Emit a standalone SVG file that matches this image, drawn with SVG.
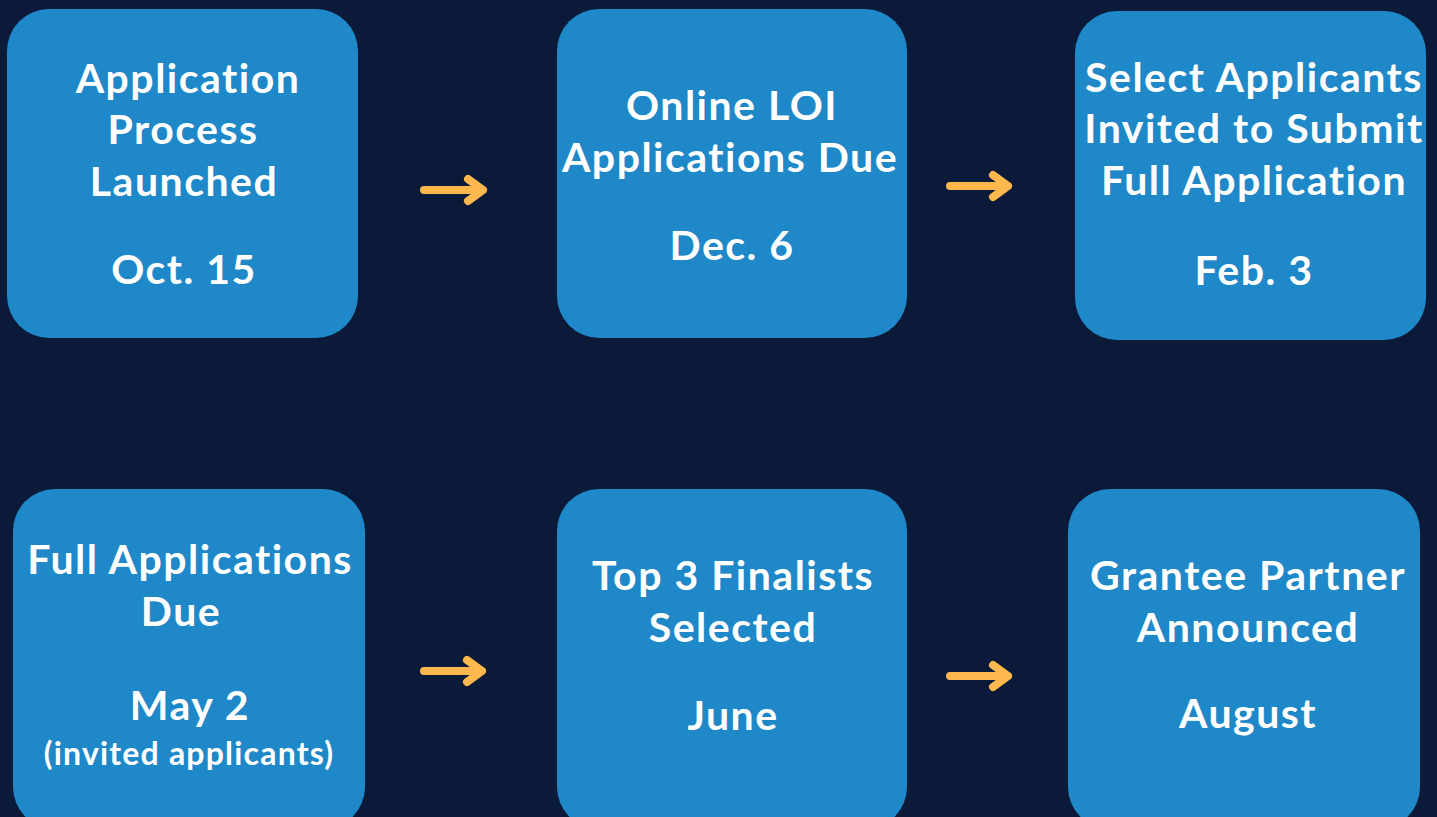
<svg xmlns="http://www.w3.org/2000/svg" width="1437" height="817" viewBox="0 0 1437 817">
<defs>
<style>
.box{fill:#1e88c8}
.t{fill:#ffffff;font-family:Lato,"Open Sans",sans-serif;font-weight:700;font-size:41px;letter-spacing:1.5px;font-variant-ligatures:none;text-anchor:middle}
.s{font-size:32px;letter-spacing:1.2px}
.arr{fill:none;stroke:#ffb84e;stroke-width:8;stroke-linecap:round;stroke-linejoin:round}
</style>
</defs>
<rect width="1437" height="817" fill="#0b1a38"/>
<g id="n1"><rect class="box" x="7" y="9" width="351" height="329" rx="42"/>
<text class="t" x="188" y="93">Application</text><text class="t" x="183" y="144">Process</text><text class="t" x="184" y="196">Launched</text><text class="t" x="184" y="284">Oct. 15</text></g>
<g id="n2"><rect class="box" x="557" y="9" width="350" height="329" rx="42"/>
<text class="t" x="732" y="120">Online LOI</text><text class="t" x="730" y="172">Applications Due</text><text class="t" x="732" y="260">Dec. 6</text></g>
<g id="n3"><rect class="box" x="1075" y="11" width="351" height="329" rx="42"/>
<text class="t" x="1254" y="92">Select Applicants</text><text class="t" x="1254" y="143">Invited to Submit</text><text class="t" x="1254" y="195">Full Application</text><text class="t" x="1254" y="285">Feb. 3</text></g>
<g id="n4"><rect class="box" x="13" y="489" width="352" height="340" rx="42"/>
<text class="t" x="190" y="574">Full Applications</text><text class="t" x="181" y="626">Due</text><text class="t" x="190" y="720">May 2</text><text class="t s" x="189" y="765">(invited applicants)</text></g>
<g id="n5"><rect class="box" x="557" y="489" width="350" height="340" rx="42"/>
<text class="t" x="733" y="590">Top 3 Finalists</text><text class="t" x="733" y="642">Selected</text><text class="t" x="733" y="730">June</text></g>
<g id="n6"><rect class="box" x="1068" y="489" width="352" height="340" rx="42"/>
<text class="t" x="1248" y="590">Grantee Partner</text><text class="t" x="1248" y="642">Announced</text><text class="t" x="1248" y="728">August</text></g>
<g id="connectors">
<path class="arr" d="M424 190H483M468 179L483 190L468 201"/>
<path class="arr" d="M950 186H1008M993 175L1008 186L993 197"/>
<path class="arr" d="M424 671H482M467 660L482 671L467 682"/>
<path class="arr" d="M950 676H1008M993 665L1008 676L993 687"/>
</g>
</svg>
